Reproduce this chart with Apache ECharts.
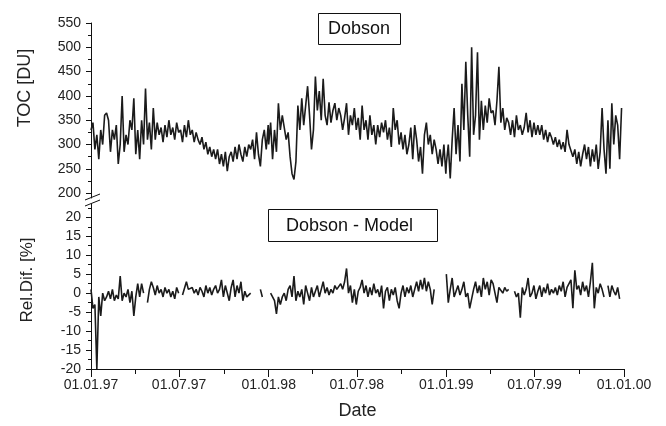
<!DOCTYPE html>
<html>
<head>
<meta charset="utf-8">
<script src="https://cdn.jsdelivr.net/npm/echarts@6/dist/echarts.min.js"></script>
<style>
  html, body { margin: 0; padding: 0; background: #fff; }
  #chart { width: 666px; height: 426px; }
</style>
</head>
<body>
<div id="chart"></div>
<script>
// values, one point every 4 days from 1 Jan of each year
const stepDays = 4;

const toc1997 = [
  330, 345, 290, 320, 270, 330, 300, 360,
  365, 350, 285, 330, 310, 340, 260, 300,
  400, 285, 320, 300, 350, 330, 395, 280,
  330, 270, 350, 300, 415, 310, 345, 290,
  375, 310, 345, 320, 335, 305, 340, 315,
  350, 320, 335, 310, 345, 325, 330, 305,
  340, 315, 350, 320, 330, 305, 325, 310,
  300, 315, 290, 305, 280, 295, 275, 290,
  270, 290, 260, 280, 255, 285, 245, 275,
  285, 265, 295, 270, 300, 280, 265, 295,
  275, 300, 290, 310, 270, 325, 280, 255,
  310, 330, 290, 340
];
const toc1998 = [
  300, 345, 270, 330, 285, 385, 330, 360,
  360, 310, 325, 275, 240, 228, 265, 380,
  330, 395, 340, 380, 420, 360, 290, 330,
  440, 370, 410, 350, 435, 360, 340, 387,
  345, 370, 385, 350, 375, 360, 330, 355,
  385, 320, 360, 340, 375, 330, 355, 310,
  380, 330, 350, 310, 360, 320, 340, 300,
  340, 315, 345, 325, 350, 310, 335, 295,
  375, 330, 350, 300, 325, 290, 320, 280,
  300, 335, 270, 340, 310, 265, 295, 240,
  320, 345, 300, 320, 280, 310, 290, 260,
  290, 255, 300, 240
];
const toc1999 = [
  260, 300, 230, 310, 375, 280, 340, 265,
  425, 330, 470, 360, 275, 500, 320, 360,
  490, 310, 390, 330, 380, 345, 395, 365,
  370, 340, 390, 460, 345, 375, 330, 355,
  345, 320, 350, 315, 360, 330, 340, 320,
  335, 365, 325, 350, 315, 345, 320, 340,
  320, 340, 310, 330, 305, 325, 315, 300,
  315, 295, 310, 290, 305, 285, 330, 300,
  300, 275, 290, 260, 285, 255, 280, 300,
  270, 295, 255, 290, 265, 300, 250, 285,
  375, 290, 240, 350, 250, 385, 300, 360,
  340, 270, 375, null
];

const rel1997 = [
  1, -4, -3, -20, -1, -6, 0, -2,
  -1, 0.5, -1.5, 1, -2, -0.5, -1.5, 4.5,
  -2, 0, -1, 1, -2.5, 0.5, -6, -1,
  2.5, -1, 2.5, 0, null, -2.5, 1, 3,
  1.5, -0.5, 2, 0, 1, -1, 1.5, 0,
  1, -1, 0.5, -1.5, 1.5, 0, null, -0.5,
  0, 3, 1, 0.5, 1.5, 0, 1, -0.5,
  1.5, 0.5, -1, 2, 0, 1.5, -0.5, 1,
  2, 0, 1, 3.5, -1, 2, 0, -2,
  1.5, 3.5, -1, 2, 0, 3, -2, 0.5,
  -1, -0.5, 0, null, null, null, null, 1,
  -1, null, null, null
];
const rel1998 = [
  null, 0, -1, -2, -5.5, -1, -3, -1,
  0, -2, 1, 2, -1, 4.5, -2, 0.5,
  -1, 1, -3, 2, 0, -2, 1.5, -1,
  0.5, 2, -1, 1, 3, 0, 1.5, -0.5,
  1, 0, 2, 1, 0.5, 2.5, 1, 3,
  6.5, 0, 2, -2.5, 1, -3, 0.5, 1.5,
  3.5, 0, 2, -1, 1.5, -0.5, 2.5, 0,
  1, -1, 2, -4, 0.5, 1.5, -2, 1,
  -0.5, 1.5, -2, -4, 0, 2, -1, 1.5,
  0, 2, -1, 1, 3, 0.5, 3.5, 1,
  4, 0.5, 3, 1, -3, 1, null, null,
  null, null, null, null
];
const rel1999 = [
  5, -2.5, 1, 4, -1, 0.5, 2, -0.5,
  1, 3, -1, 0, -4, -4.5, 1, 3,
  0, 2, -1, 4, 1, 3, -0.5, 3.5,
  2.5, 0, -2.5, 1.5, 2, 0, 1.5, 0.5,
  1, null, null, 0.5, -1, 0, -6.5, 1.5,
  -0.5, 1, 4, -1, 0, 2, -1.5, 0.5,
  2, -1, 1.5, 0, 2.5, -0.5, 1, 0,
  1.5, -0.5, 2, 0.5, 3, -1, 1.5, 2,
  3.5, -4, 6, 1, 2, -0.5, 3, 0.5,
  2, -1, 3, 8, -4, 1.5, 0, 2.5,
  1, -1, null, 2, -1, 2, 0.5, -0.5,
  1.5, -1.5, null, null
];

const xLabelDates = ['1997-01-01', '1997-07-01', '1998-01-01', '1998-07-01', '1999-01-01', '1999-07-01', '2000-01-01'];
const xMinorDates = ['1997-04-01', '1997-10-01', '1998-04-01', '1998-10-01', '1999-04-01', '1999-10-01'];
const tocTicks = [200, 250, 300, 350, 400, 450, 500, 550];
const tocMinorTicks = [225, 275, 325, 375, 425, 475, 525];
const relTicks = [-20, -15, -10, -5, 0, 5, 10, 15, 20];
const relMinorTicks = [-17.5, -12.5, -7.5, -2.5, 2.5, 7.5, 12.5, 17.5, 22.5];

const FONT = '"Liberation Sans", Arial, sans-serif';
const DAY = 86400000;

function ts(s) {
  const p = s.split('-');
  return Date.UTC(+p[0], +p[1] - 1, +p[2]);
}

function pairs(year, values) {
  const start = Date.UTC(year, 0, 1);
  return values.map((v, i) => [start + i * stepDays * DAY, v]);
}

function pad(n) { return n < 10 ? '0' + n : '' + n; }

function fmtDate(v) {
  const d = new Date(v);
  return pad(d.getUTCDate()) + '.' + pad(d.getUTCMonth() + 1) + '.' + String(d.getUTCFullYear()).slice(2);
}

const tocData = pairs(1997, toc1997).concat(pairs(1998, toc1998), pairs(1999, toc1999));
const relData = pairs(1997, rel1997).concat(pairs(1998, rel1998), pairs(1999, rel1999));

const xMin = ts('1997-01-01');
const xMax = ts('2000-01-01');
const xLabelVals = xLabelDates.map(ts);
const xMinorVals = xMinorDates.map(ts);

const axisColor = '#111';

const chart = echarts.init(document.getElementById('chart'), null, { renderer: 'canvas' });

const option = {
  animation: false,
  backgroundColor: '#fff',
  title: [
    {
      text: 'Dobson', left: 318, top: 13,
      borderColor: '#111', borderWidth: 1, padding: [6, 11, 6, 10],
      textStyle: { fontFamily: FONT, fontSize: 18, fontWeight: 'normal', color: '#111', lineHeight: 20 }
    },
    {
      text: 'Dobson - Model', left: 268, top: 209,
      borderColor: '#111', borderWidth: 1, padding: [7, 25, 6, 18],
      textStyle: { fontFamily: FONT, fontSize: 18, fontWeight: 'normal', color: '#111', lineHeight: 20 }
    }
  ],
  grid: [
    { left: 91, top: 23, width: 533, height: 175 },
    { left: 91, top: 204, width: 533, height: 165 }
  ],
  xAxis: [
    { type: 'value', gridIndex: 0, min: xMin, max: xMax, show: false, scale: true },
    {
      type: 'value', gridIndex: 1, min: xMin, max: xMax, position: 'bottom', scale: true,
      axisLine: { show: true, onZero: false, lineStyle: { color: axisColor, width: 1 } },
      axisTick: { show: true, length: 8, customValues: xLabelVals, lineStyle: { color: axisColor } },
      axisLabel: {
        customValues: xLabelVals, formatter: fmtDate, margin: 9,
        fontFamily: FONT, fontSize: 14, color: '#222', hideOverlap: false
      },
      splitLine: { show: false },
      name: 'Date', nameLocation: 'middle', nameGap: 33,
      nameTextStyle: { fontFamily: FONT, fontSize: 18, color: '#222' }
    },
    {
      type: 'value', gridIndex: 1, min: xMin, max: xMax, position: 'bottom', scale: true,
      axisLine: { show: false, onZero: false },
      axisTick: { show: true, length: 5, customValues: xMinorVals, lineStyle: { color: axisColor } },
      axisLabel: { show: false },
      splitLine: { show: false }
    }
  ],
  yAxis: [
    {
      type: 'value', gridIndex: 0, min: 190, max: 550, position: 'left',
      axisLine: { show: true, onZero: false, lineStyle: { color: axisColor, width: 1 } },
      axisTick: { show: true, length: 5, customValues: tocTicks, lineStyle: { color: axisColor } },
      axisLabel: { customValues: tocTicks, margin: 10, fontFamily: FONT, fontSize: 14, color: '#222' },
      splitLine: { show: false }
    },
    {
      type: 'value', gridIndex: 0, min: 190, max: 550, position: 'left',
      axisLine: { show: false, onZero: false },
      axisTick: { show: true, length: 3, customValues: tocMinorTicks, lineStyle: { color: axisColor } },
      axisLabel: { show: false },
      splitLine: { show: false }
    },
    {
      type: 'value', gridIndex: 1, min: -20, max: 23.5, position: 'left',
      axisLine: { show: true, onZero: false, lineStyle: { color: axisColor, width: 1 } },
      axisTick: { show: true, length: 5, customValues: relTicks, lineStyle: { color: axisColor } },
      axisLabel: { customValues: relTicks, margin: 10, fontFamily: FONT, fontSize: 14, color: '#222' },
      splitLine: { show: false }
    },
    {
      type: 'value', gridIndex: 1, min: -20, max: 23.5, position: 'left',
      axisLine: { show: false, onZero: false },
      axisTick: { show: true, length: 3, customValues: relMinorTicks, lineStyle: { color: axisColor } },
      axisLabel: { show: false },
      splitLine: { show: false }
    }
  ],
  series: [
    {
      name: 'Dobson', type: 'line', xAxisIndex: 0, yAxisIndex: 0,
      data: tocData, showSymbol: false, connectNulls: false,
      lineStyle: { color: '#1b1b1b', width: 1.6 }
    },
    {
      name: 'Dobson - Model', type: 'line', xAxisIndex: 1, yAxisIndex: 2,
      data: relData, showSymbol: false, connectNulls: false,
      lineStyle: { color: '#1b1b1b', width: 1.6 }
    }
  ],
  graphic: [
    // axis titles
    {
      type: 'text', x: 25, y: 88, rotation: Math.PI / 2,
      style: { text: 'TOC [DU]', font: '18px ' + FONT, fill: '#222', align: 'center', verticalAlign: 'middle' }
    },
    {
      type: 'text', x: 27, y: 280, rotation: Math.PI / 2,
      style: { text: 'Rel.Dif. [%]', font: '17px ' + FONT, fill: '#222', align: 'center', verticalAlign: 'middle' }
    },
    // axis break marks
    { type: 'line', shape: { x1: 85, y1: 200, x2: 100, y2: 194 }, style: { stroke: '#111', lineWidth: 1 } },
    { type: 'line', shape: { x1: 85, y1: 206, x2: 100, y2: 200 }, style: { stroke: '#111', lineWidth: 1 } }
  ]
};

chart.setOption(option);
</script>
</body>
</html>
